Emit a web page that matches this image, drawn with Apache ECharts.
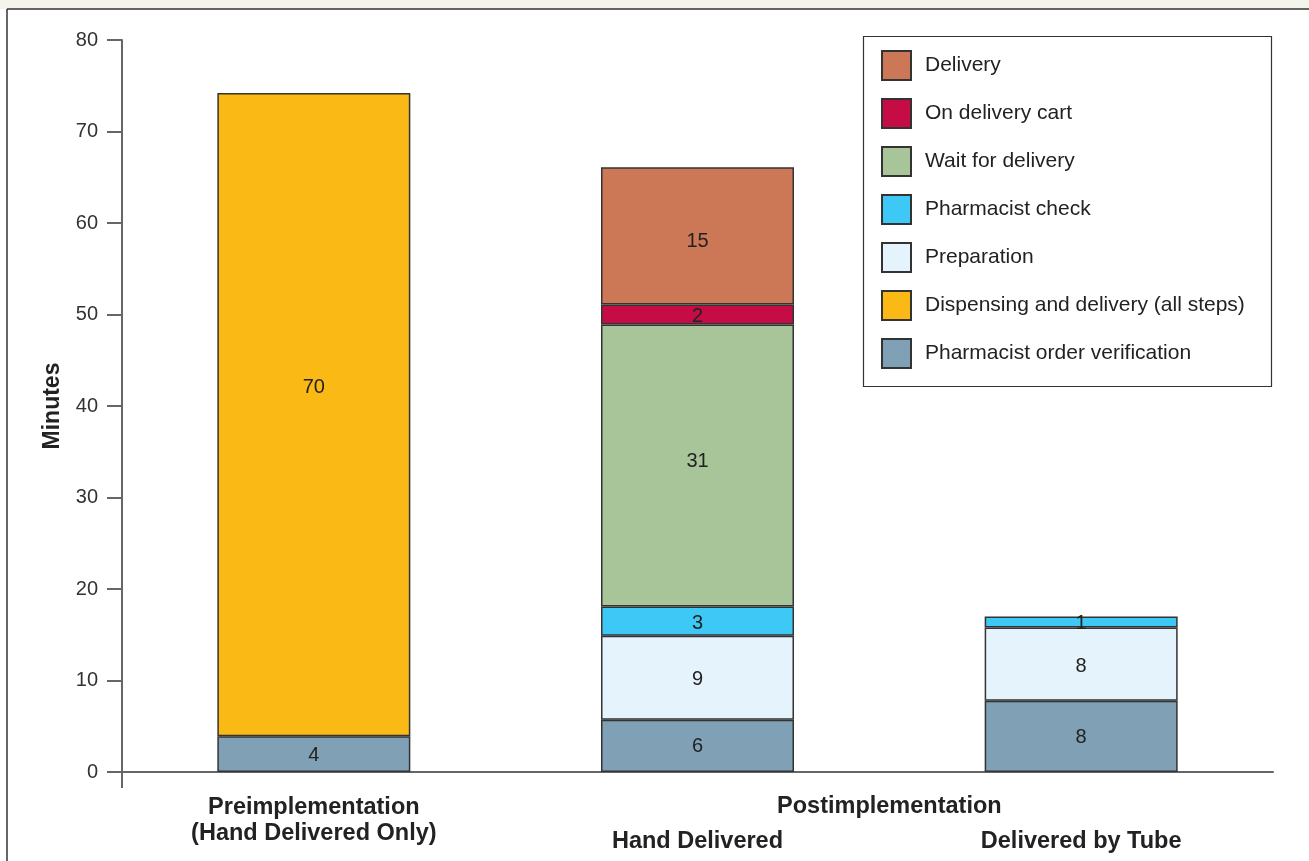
<!DOCTYPE html>
<html><head><meta charset="utf-8">
<script src="https://cdn.jsdelivr.net/npm/echarts@6/dist/echarts.min.js"></script>
<style>html,body{margin:0;padding:0;background:#fff}#c{width:1309px;height:861px}</style>
</head><body><div id="c"></div>
<script>
const categories = ['Preimplementation\n(Hand Delivered Only)', 'Hand Delivered', 'Delivered by Tube'];
const groupLabel = 'Postimplementation';
const yTicks = { min: 0, max: 80, interval: 10 };
const verification = [3.9, 5.7, 7.8];
const dispensing = [70.3, null, null];
const preparation = [null, 9.2, 8.0];
const pharmCheck = [null, 3.2, 1.2];
const waitDelivery = [null, 30.8, null];
const deliveryCart = [null, 2.2, null];
const delivery = [null, 15.0, null];
const seriesNames = ['Pharmacist order verification', 'Dispensing and delivery (all steps)', 'Preparation', 'Pharmacist check', 'Wait for delivery', 'On delivery cart', 'Delivery'];
const seriesData = [verification, dispensing, preparation, pharmCheck, waitDelivery, deliveryCart, delivery];
const colors = ['#7fa0b5', '#fbb916', '#e5f3fc', '#3ec8f5', '#a8c59a', '#c60c45', '#cc7856'];
const labelOffsets = [[0, 1], [0, -27], [0, 2], [0, 2], [0, -4], [0, 2], [0, 6]];

const FONT = '"Liberation Sans", Arial, Helvetica, sans-serif';
const chart = echarts.init(document.getElementById('c'), null, { renderer: 'canvas' });

const series = seriesNames.map((n, i) => ({
  name: n, type: 'bar', stack: 'total', barWidth: 193,
  data: seriesData[i],
  itemStyle: { color: colors[i], borderColor: '#333', borderWidth: 1.5 },
  label: { show: true, position: 'inside', offset: labelOffsets[i], fontFamily: FONT, fontSize: 20, color: '#222',
    formatter: p => p.value == null ? '' : String(Math.round(p.value)) },
  emphasis: { disabled: true }
}));

chart.setOption({
  animation: false,
  backgroundColor: '#ffffff',
  grid: { left: 122, right: 36, top: 40, bottom: 89, containLabel: false },
  legend: {
    orient: 'vertical', left: 881, top: 50,
    data: seriesNames.slice().reverse(),
    itemWidth: 29, itemHeight: 29, itemGap: 17,
    icon: 'rect',
    textStyle: { fontFamily: FONT, fontSize: 21, color: '#222', padding: [0, 0, 0, 9] },
    padding: 0, selectedMode: false
  },
  xAxis: {
    type: 'category', data: categories,
    axisLine: { lineStyle: { color: '#666', width: 2 } },
    axisTick: { show: false },
    axisLabel: {
      interval: 0, margin: 23,
      formatter: (v, i) => i === 0 ? '{a|' + v.split('\n').join('}\n{a|') + '}' : '{e| }\n{b|' + v + '}',
      rich: {
        a: { fontFamily: FONT, fontSize: 23.5, fontWeight: 'bold', color: '#222', lineHeight: 26 },
        e: { fontFamily: FONT, fontSize: 23.5, fontWeight: 'bold', color: '#222', lineHeight: 26 },
        b: { fontFamily: FONT, fontSize: 23.5, fontWeight: 'bold', color: '#222', lineHeight: 42 }
      }
    }
  },
  yAxis: {
    type: 'value', min: yTicks.min, max: yTicks.max, interval: yTicks.interval,
    name: 'Minutes', nameLocation: 'middle', nameGap: 58, nameRotate: 90,
    nameTextStyle: { fontFamily: FONT, fontSize: 23, fontWeight: 'bold', color: '#222' },
    axisLine: { show: true, lineStyle: { color: '#666', width: 2 } },
    axisTick: { show: true, length: 15, lineStyle: { color: '#666', width: 2 } },
    axisLabel: { fontFamily: FONT, fontSize: 20, color: '#333', margin: 24 },
    splitLine: { show: false }
  },
  series: series
});

const base = chart.convertToPixel({ xAxisIndex: 0, yAxisIndex: 0 }, [0, 0]);
const p1 = chart.convertToPixel({ xAxisIndex: 0, yAxisIndex: 0 }, [1, 0]);
const p2 = chart.convertToPixel({ xAxisIndex: 0, yAxisIndex: 0 }, [2, 0]);
const gridLeft = 122;
chart.setOption({
  graphic: [
    { type: 'rect', shape: { x: 0, y: 0, width: 1309, height: 9 }, style: { fill: '#f4f3ec' }, silent: true },
    { type: 'line', shape: { x1: 7, y1: 9, x2: 1309, y2: 9 }, style: { stroke: '#333', lineWidth: 1.5 }, silent: true },
    { type: 'line', shape: { x1: 7, y1: 9, x2: 7, y2: 861 }, style: { stroke: '#333', lineWidth: 1.5 }, silent: true },
    { type: 'rect', shape: { x: 863.5, y: 36.5, width: 408, height: 350 }, style: { fill: 'none', stroke: '#333', lineWidth: 1.2 }, silent: true, z: 100 },
    { type: 'line', shape: { x1: gridLeft, y1: base[1], x2: gridLeft, y2: base[1] + 16 }, style: { stroke: '#666', lineWidth: 2 }, silent: true },
    { type: 'text', x: (p1[0] + p2[0]) / 2, y: base[1] + 35, style: { text: groupLabel, fontFamily: FONT, fontSize: 23.5, fontWeight: 'bold', fill: '#222', align: 'center', verticalAlign: 'middle' }, silent: true }
  ]
});
</script></body></html>
